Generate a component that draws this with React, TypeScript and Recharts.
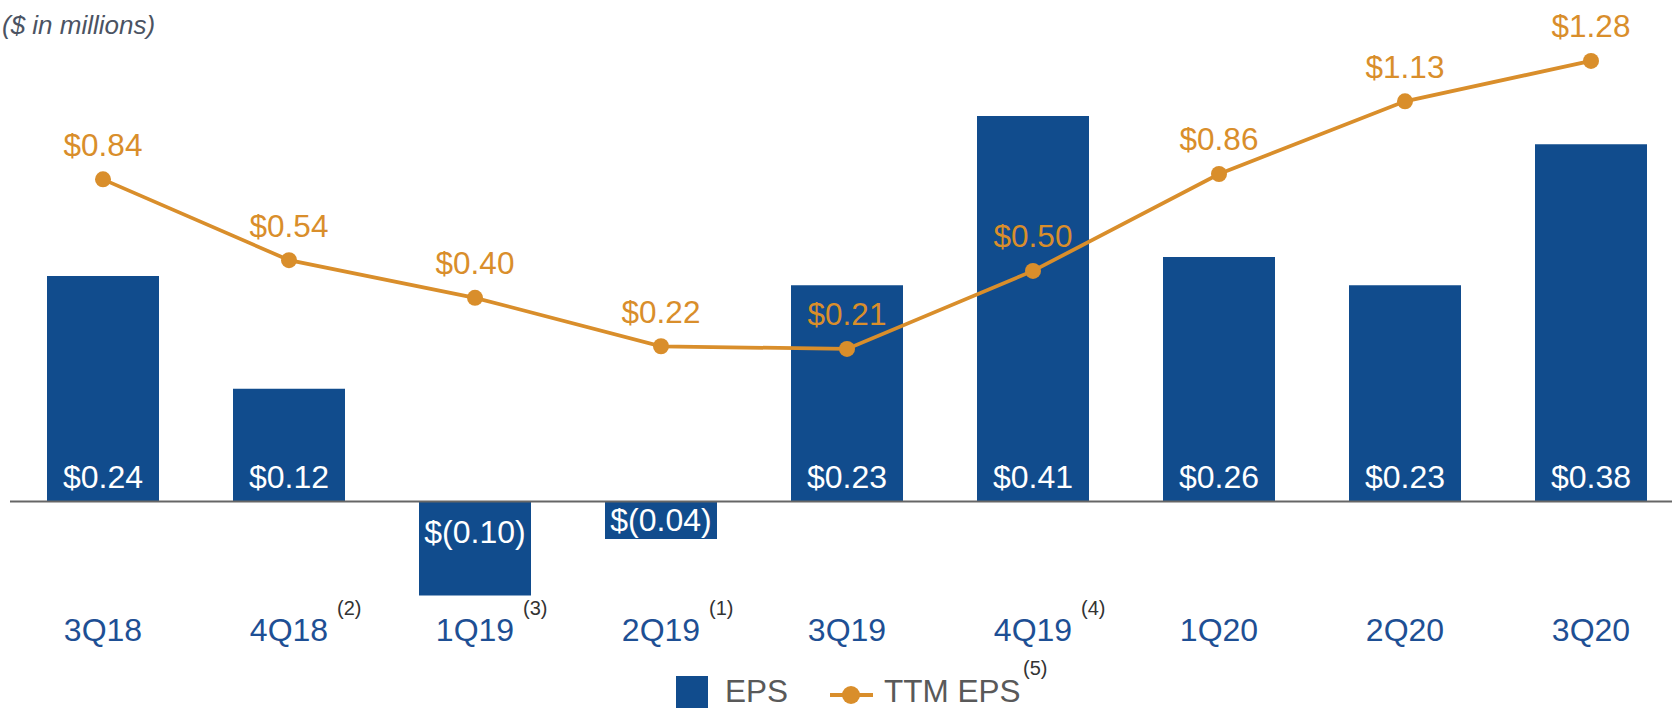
import React from "react";
import {
  ComposedChart,
  Bar,
  Line,
  XAxis,
  YAxis,
  ReferenceLine,
  LabelList,
} from "recharts";

const quarters = ["3Q18", "4Q18", "1Q19", "2Q19", "3Q19", "4Q19", "1Q20", "2Q20", "3Q20"];
const footnotes = ["", "(2)", "(3)", "(1)", "", "(4)", "", "", ""];
const epsValues = [0.24, 0.12, -0.1, -0.04, 0.23, 0.41, 0.26, 0.23, 0.38];
const ttmEpsValues = [0.84, 0.54, 0.4, 0.22, 0.21, 0.5, 0.86, 1.13, 1.28];

const BLUE = "#114C8D";
const ORANGE = "#D98E2B";
const TICK_BLUE = "#1E4F94";
const FONT = "'Liberation Sans', Arial, sans-serif";

const data = quarters.map((q, i) => ({
  quarter: q,
  note: footnotes[i],
  eps: epsValues[i],
  ttm: ttmEpsValues[i],
}));

const fmt = (v: number) =>
  v < 0 ? `$(${Math.abs(v).toFixed(2)})` : `$${v.toFixed(2)}`;

const BarLabel = (props: any) => {
  const { x, y, width, height, value } = props;
  const v = Number(value);
  const top = Math.min(y, y + height);
  const bottom = Math.max(y, y + height);
  const cx = x + width / 2;
  let baseline: number;
  if (v >= 0) {
    baseline = bottom - 13;
  } else {
    baseline = Math.min(top + 41.5, bottom - 7.7);
  }
  return (
    <text
      x={cx}
      y={baseline}
      textAnchor="middle"
      fill="#ffffff"
      fontSize={32}
      fontFamily={FONT}
    >
      {fmt(v)}
    </text>
  );
};

const LineLabel = (props: any) => {
  const { x, y, value } = props;
  return (
    <text
      x={x}
      y={y - 23.5}
      textAnchor="middle"
      fill={ORANGE}
      fontSize={31.5}
      fontFamily={FONT}
    >
      {fmt(Number(value))}
    </text>
  );
};

const QuarterTick = (props: any) => {
  const { x, y, payload, index } = props;
  const note = footnotes[index] || "";
  return (
    <g>
      <text
        x={x}
        y={y + 36}
        textAnchor="middle"
        fill={TICK_BLUE}
        fontSize={32}
        fontFamily={FONT}
      >
        {payload.value}
      </text>
      {note ? (
        <text
          x={x + 48}
          y={y + 10}
          textAnchor="start"
          fill="#333333"
          fontSize={20}
          fontFamily={FONT}
        >
          {note}
        </text>
      ) : null}
    </g>
  );
};

export default function App() {
  return (
    <div
      style={{
        position: "fixed",
        left: 0,
        top: 0,
        width: 1672,
        height: 709,
        overflow: "hidden",
        background: "#ffffff",
        fontFamily: FONT,
      }}
    >
      <ComposedChart
        width={1700}
        height={709}
        data={data}
        margin={{ top: 20, right: 16, left: 10, bottom: 74 }}
      >
        <XAxis
          dataKey="quarter"
          axisLine={false}
          tickLine={false}
          tickSize={0}
          tickMargin={0}
          height={30}
          interval={0}
          tick={<QuarterTick />}
        />
        <YAxis
          yAxisId="bar"
          hide
          type="number"
          domain={[-0.1101, 0.5122]}
          allowDataOverflow
        />
        <YAxis
          yAxisId="line"
          hide
          type="number"
          domain={[-0.7411, 1.432]}
          allowDataOverflow
          orientation="right"
        />
        <ReferenceLine yAxisId="bar" y={0} stroke="#666666" strokeWidth={2} />
        <Bar
          yAxisId="bar"
          dataKey="eps"
          fill={BLUE}
          barSize={112}
          isAnimationActive={false}
        >
          <LabelList dataKey="eps" content={<BarLabel />} />
        </Bar>
        <Line
          yAxisId="line"
          type="linear"
          dataKey="ttm"
          stroke={ORANGE}
          strokeWidth={3.75}
          dot={{ r: 8, fill: ORANGE, stroke: "none" }}
          activeDot={false}
          isAnimationActive={false}
        >
          <LabelList dataKey="ttm" content={<LineLabel />} />
        </Line>
      </ComposedChart>

      <div
        style={{
          position: "absolute",
          left: 2,
          top: 8,
          fontSize: 26,
          fontStyle: "italic",
          color: "#4B5362",
          lineHeight: "34px",
          whiteSpace: "nowrap",
        }}
      >
        ($ in millions)
      </div>

      <svg
        width={1672}
        height={80}
        style={{ position: "absolute", left: 0, top: 640 }}
      >
        <rect x={676} y={36} width={32} height={32} fill={BLUE} />
        <text x={725} y={61.5} fontSize={31.5} fill="#595959" fontFamily={FONT}>
          EPS
        </text>
        <line x1={830} y1={55} x2={873} y2={55} stroke={ORANGE} strokeWidth={4} />
        <circle cx={851} cy={55} r={9} fill={ORANGE} />
        <text x={884} y={61.5} fontSize={31.5} fill="#595959" fontFamily={FONT}>
          TTM EPS
        </text>
        <text x={1023} y={35} fontSize={20} fill="#333333" fontFamily={FONT}>
          (5)
        </text>
      </svg>
    </div>
  );
}
